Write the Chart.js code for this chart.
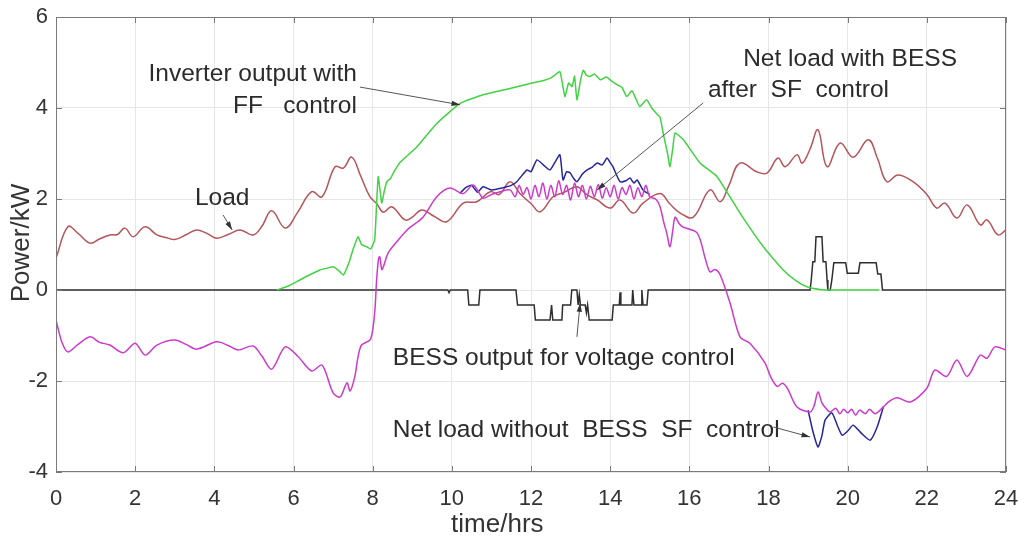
<!DOCTYPE html>
<html>
<head>
<meta charset="utf-8">
<script src="https://cdn.jsdelivr.net/npm/chart.js@4/dist/chart.umd.min.js"></script>
<style>
  html, body { margin: 0; padding: 0; background: #fff; }
  #wrap { width: 1024px; height: 542px; }
</style>
</head>
<body>
<div id="wrap"><canvas id="power"></canvas></div>
<script>
// Load
const loadTime = [0, 0.3, 0.55, 0.86, 1.1, 1.36, 1.55, 1.74, 1.95, 2.25, 2.55, 2.8, 3.0, 3.3, 3.55, 3.8, 4.06, 4.35, 4.65, 4.98, 5.2, 5.45, 5.79, 6.1, 6.46, 6.72, 7.05, 7.26, 7.47, 7.7, 7.93, 8.1, 8.27, 8.48, 8.82, 9.0, 9.24, 9.55, 9.87, 10.29, 10.63, 10.97, 11.2, 11.47, 11.72, 12.0, 12.23, 12.56, 12.85, 13.16, 13.4, 13.67, 14.0, 14.25, 14.58, 14.83, 15.26, 15.5, 15.77, 16.1, 16.52, 16.78, 17.0, 17.28, 17.7, 17.96, 18.24, 18.42, 18.72, 18.85, 19.05, 19.25, 19.48, 19.81, 20.14, 20.52, 20.75, 20.99, 21.27, 21.65, 22.0, 22.25, 22.46, 22.76, 23.02, 23.35, 23.52, 23.8, 24];
const loadPower = [0.7, 1.39, 1.25, 1.03, 1.12, 1.21, 1.22, 1.36, 1.17, 1.39, 1.21, 1.15, 1.11, 1.22, 1.32, 1.25, 1.14, 1.22, 1.32, 1.21, 1.4, 1.74, 1.36, 1.7, 2.16, 2.05, 2.71, 2.68, 2.92, 2.5, 2.05, 1.9, 1.71, 1.83, 1.54, 1.6, 1.76, 1.62, 1.5, 1.91, 1.94, 2.16, 2.1, 2.38, 2.12, 1.9, 1.72, 2.05, 2.15, 2.27, 2.1, 1.98, 1.8, 1.98, 1.69, 1.91, 2.12, 1.9, 1.69, 1.6, 2.2, 1.94, 2.3, 2.79, 2.6, 2.57, 2.9, 2.71, 2.97, 2.79, 3.1, 3.52, 2.71, 3.23, 2.92, 3.3, 2.9, 2.38, 2.53, 2.38, 2.1, 1.8, 1.91, 1.58, 1.87, 1.43, 1.54, 1.21, 1.32];

// Inverter output with FF control
const pvTime = [5.58, 5.9, 6.16, 6.4, 6.67, 6.85, 7.0, 7.15, 7.26, 7.4, 7.5, 7.63, 7.72, 7.85, 7.95, 8.05, 8.1, 8.14, 8.2, 8.23, 8.3, 8.36, 8.45, 8.52, 8.69, 9.12, 9.62, 10.21, 10.79, 11.47, 11.98, 12.3, 12.48, 12.6, 12.73, 12.8, 12.86, 12.95, 13.04, 13.1, 13.16, 13.25, 13.32, 13.4, 13.49, 13.6, 13.75, 13.9, 14.0, 14.1, 14.2, 14.3, 14.42, 14.55, 14.65, 14.75, 14.92, 15.05, 15.2, 15.26, 15.35, 15.45, 15.51, 15.58, 15.64, 15.85, 16.27, 16.7, 17.28, 17.87, 18.37, 18.7, 18.97, 19.3, 19.56, 20.8];
const pvPower = [0, 0.1, 0.22, 0.33, 0.44, 0.48, 0.51, 0.42, 0.33, 0.6, 0.88, 1.17, 1.0, 0.95, 0.9, 1.1, 1.9, 2.49, 2.1, 1.91, 2.2, 2.38, 2.45, 2.57, 2.8, 3.15, 3.66, 4.1, 4.29, 4.43, 4.54, 4.6, 4.65, 4.72, 4.8, 4.5, 4.25, 4.55, 4.47, 4.7, 4.18, 4.6, 4.83, 4.72, 4.69, 4.75, 4.62, 4.68, 4.62, 4.55, 4.5, 4.45, 4.25, 4.38, 4.2, 4.03, 4.18, 4.0, 3.85, 3.8, 3.4, 3.0, 2.71, 3.1, 3.45, 3.3, 2.79, 2.49, 1.69, 0.95, 0.44, 0.2, 0.07, 0.01, 0, 0];

// Net load with BESS after SF control
const netTime = [0, 0.15, 0.3, 0.55, 0.86, 1.1, 1.36, 1.7, 2.0, 2.25, 2.55, 3.0, 3.3, 3.55, 4.06, 4.35, 4.6, 4.98, 5.2, 5.45, 5.79, 6.1, 6.46, 6.72, 7.0, 7.18, 7.35, 7.43, 7.55, 7.63, 7.72, 7.93, 8.0, 8.06, 8.1, 8.15, 8.18, 8.23, 8.27, 8.39, 8.6, 8.87, 9.27, 9.62, 9.95, 10.29, 10.54, 10.79, 11.0, 11.22, 11.47, 11.6, 11.7, 11.8, 11.9, 12.0, 12.1, 12.2, 12.3, 12.4, 12.5, 12.6, 12.7, 12.8, 12.9, 13.0, 13.1, 13.2, 13.3, 13.4, 13.5, 13.6, 13.7, 13.8, 13.9, 14.0, 14.1, 14.2, 14.3, 14.4, 14.5, 14.6, 14.7, 14.8, 14.9, 15.0, 15.15, 15.26, 15.35, 15.43, 15.51, 15.58, 15.64, 15.75, 15.85, 16.2, 16.4, 16.52, 16.65, 16.78, 17.03, 17.28, 17.53, 17.91, 18.05, 18.22, 18.35, 18.47, 18.72, 19.05, 19.15, 19.25, 19.35, 19.45, 19.56, 19.7, 19.8, 19.9, 20.0, 20.1, 20.2, 20.3, 20.45, 20.55, 20.7, 20.9, 21.05, 21.25, 21.58, 22.0, 22.2, 22.5, 22.76, 23.02, 23.35, 23.52, 23.72, 24];
const netPower = [-0.66, -1.15, -1.36, -1.2, -1.03, -1.15, -1.21, -1.38, -1.17, -1.43, -1.21, -1.1, -1.2, -1.3, -1.14, -1.22, -1.32, -1.23, -1.45, -1.74, -1.25, -1.45, -1.78, -1.65, -2.26, -2.35, -2.04, -2.22, -1.9, -1.47, -1.21, -1.1, -0.88, -0.4, 0.22, 0.7, 0.73, 0.45, 0.51, 0.81, 1.05, 1.32, 1.6, 2.05, 2.24, 2.12, 2.31, 2.02, 2.1, 2.16, 2.2, 2.05, 2.3, 2.1, 2.25, 2.0, 2.3, 2.05, 2.35, 2.0, 2.3, 2.05, 2.4, 2.1, 2.3, 1.98, 2.35, 2.05, 2.3, 2.0, 2.28, 2.05, 2.32, 2.02, 2.25, 2.05, 2.3, 2.0, 2.25, 2.1, 2.3, 2.0, 2.25, 2.05, 2.3, 2.05, 2.0, 1.83, 1.5, 1.25, 0.95, 1.3, 1.6, 1.45, 1.38, 1.25, 0.7, 0.4, 0.45, 0.33, -0.29, -1.03, -1.17, -1.6, -1.9, -2.12, -2.05, -2.15, -2.57, -2.68, -2.55, -2.24, -2.48, -2.6, -2.68, -2.6, -2.72, -2.62, -2.7, -2.62, -2.75, -2.64, -2.72, -2.62, -2.72, -2.57, -2.45, -2.37, -2.46, -2.16, -1.76, -1.9, -1.54, -1.9, -1.43, -1.5, -1.25, -1.32];

// Net load without BESS SF control (only where it differs)
const rawTime = [10.2, 10.35, 10.5, 10.65, 10.79, 11.0, 11.3, 11.5, 11.64, 11.9, 12.0, 12.15, 12.31, 12.48, 12.6, 12.73, 12.81, 12.9, 12.99, 13.08, 13.16, 13.3, 13.42, 13.55, 13.67, 13.8, 13.92, 14.0, 14.07, 14.15, 14.25, 14.4, 14.5, 14.6, 14.68, 14.83, 15.0, 17.0, 19.0, 19.12, 19.25, 19.35, 19.43, 19.6, 19.75, 19.86, 20.0, 20.14, 20.35, 20.57, 20.75, 20.9];
const rawPower = [2.12, 2.25, 2.3, 2.15, 2.27, 2.2, 2.25, 2.3, 2.38, 2.64, 2.6, 2.86, 2.75, 2.64, 2.8, 2.97, 2.42, 2.6, 2.57, 2.45, 2.38, 2.55, 2.64, 2.7, 2.79, 2.75, 2.9, 2.8, 2.71, 2.55, 2.38, 2.4, 2.46, 2.35, 2.42, 2.2, 2.1, null, -2.64, -3.1, -3.45, -3.2, -2.86, -2.7, -3.0, -3.19, -3.1, -2.97, -3.15, -3.3, -3.0, -2.57];

// BESS output for voltage control
const bessTime = [0, 9.9, 9.93, 9.96, 10.4, 10.43, 10.68, 10.71, 11.62, 11.66, 12.08, 12.11, 12.48, 12.52, 12.55, 12.78, 12.8, 13.0, 13.03, 13.16, 13.19, 13.22, 13.25, 13.37, 13.4, 13.43, 13.47, 14.05, 14.08, 14.23, 14.25, 14.27, 14.55, 14.57, 14.6, 14.78, 14.8, 14.83, 14.93, 14.96, 19.0, 19.05, 19.08, 19.12, 19.17, 19.2, 19.35, 19.38, 19.45, 19.48, 19.5, 19.56, 19.6, 19.65, 19.95, 19.99, 20.27, 20.31, 20.72, 20.76, 20.84, 20.88, 24];
const bessPower = [0, 0, -0.06, 0, 0, -0.33, -0.33, 0, 0, -0.33, -0.33, -0.66, -0.66, -0.33, -0.66, -0.66, -0.33, -0.33, 0, 0, -0.33, -0.1, -0.33, -0.33, -0.5, -0.33, -0.66, -0.66, -0.33, -0.33, -0.05, -0.33, -0.33, 0, -0.33, -0.33, 0, -0.33, -0.33, 0, 0, 0, 0.22, 0.62, 0.62, 1.17, 1.17, 0.62, 0.62, 0.22, 0, 0, 0.22, 0.6, 0.6, 0.37, 0.37, 0.6, 0.6, 0.35, 0.35, 0, 0];

const timeTicks = [0, 2, 4, 6, 8, 10, 12, 14, 16, 18, 20, 22, 24];
const powerTicks = [-4, -2, 0, 2, 4, 6];

// text labels with arrows, in data coordinates
const notes = [
  { text: 'Inverter output with', t: 7.6, p: 4.59, align: 'right' },
  { text: 'FF   control', t: 7.6, p: 3.89, align: 'right' },
  { text: 'Load', t: 3.51, p: 1.87, align: 'left' },
  { text: 'Net load with BESS', t: 17.36, p: 4.92, align: 'left' },
  { text: 'after  SF  control', t: 16.47, p: 4.24, align: 'left' },
  { text: 'BESS output for voltage control', t: 8.51, p: -1.65, align: 'left' },
  { text: 'Net load without  BESS  SF  control', t: 8.51, p: -3.23, align: 'left' }
];
const arrows = [
  [7.68, 4.46, 10.21, 4.07],
  [4.22, 1.65, 4.45, 1.32],
  [16.35, 4.11, 13.67, 2.2],
  [13.16, -1.03, 13.24, -0.29],
  [18.12, -3.01, 19.05, -3.23]
];

const FONT = '"Liberation Sans", Arial, Helvetica, sans-serif';
const pts = (xs, ys) => xs.map((x, i) => ({ x: x, y: ys[i] }));

const line = (label, xs, ys, color, order, tension) => ({
  label: label,
  data: pts(xs, ys),
  borderColor: color,
  borderWidth: 1.5,
  pointRadius: 0,
  tension: tension,
  order: order,
  fill: false
});

const frame = {
  id: 'frame',
  afterDatasetsDraw(chart) {
    const { ctx, chartArea: a, scales: { x, y } } = chart;
    ctx.save();
    ctx.strokeStyle = '#7a7a7a';
    ctx.lineWidth = 1;
    ctx.strokeRect(a.left + 0.5, a.top + 0.5, a.right - a.left - 1, a.bottom - a.top - 1);
    ctx.beginPath();
    timeTicks.forEach(t => {
      const px = Math.round(x.getPixelForValue(t)) + 0.5;
      ctx.moveTo(px, a.bottom); ctx.lineTo(px, a.bottom - 6);
      ctx.moveTo(px, a.top); ctx.lineTo(px, a.top + 6);
    });
    powerTicks.forEach(p => {
      const py = Math.round(y.getPixelForValue(p)) + 0.5;
      ctx.moveTo(a.left, py); ctx.lineTo(a.left + 6, py);
      ctx.moveTo(a.right, py); ctx.lineTo(a.right - 6, py);
    });
    ctx.stroke();

    // annotations
    ctx.fillStyle = '#2b2b2b';
    ctx.font = '24.5px ' + FONT;
    ctx.textBaseline = 'alphabetic';
    notes.forEach(n => {
      ctx.textAlign = n.align;
      ctx.fillText(n.text, x.getPixelForValue(n.t), y.getPixelForValue(n.p));
    });
    ctx.strokeStyle = '#555';
    ctx.fillStyle = '#333';
    arrows.forEach(([t0, p0, t1, p1]) => {
      const x0 = x.getPixelForValue(t0), y0 = y.getPixelForValue(p0);
      const x1 = x.getPixelForValue(t1), y1 = y.getPixelForValue(p1);
      const ang = Math.atan2(y1 - y0, x1 - x0);
      ctx.beginPath();
      ctx.moveTo(x0, y0); ctx.lineTo(x1, y1);
      ctx.stroke();
      ctx.beginPath();
      ctx.moveTo(x1, y1);
      ctx.lineTo(x1 - 9 * Math.cos(ang - 0.3), y1 - 9 * Math.sin(ang - 0.3));
      ctx.lineTo(x1 - 9 * Math.cos(ang + 0.3), y1 - 9 * Math.sin(ang + 0.3));
      ctx.closePath();
      ctx.fill();
    });

    // axis titles
    ctx.fillStyle = '#333';
    ctx.font = '26px ' + FONT;
    ctx.textAlign = 'center';
    ctx.textBaseline = 'middle';
    ctx.fillText('time/hrs', x.getPixelForValue(11.15), 525);
    ctx.translate(22, 243);
    ctx.rotate(-Math.PI / 2);
    ctx.fillText('Power/kW', 0, 0);
    ctx.restore();
  }
};

new Chart(document.getElementById('power'), {
  type: 'line',
  data: {
    datasets: [
      line('Load', loadTime, loadPower, '#b5545a', 4, 0.4),
      line('Inverter output with FF control', pvTime, pvPower, '#42d242', 3, 0.15),
      line('Net load with BESS after SF control', netTime, netPower, '#cc3acc', 1, 0.3),
      line('Net load without BESS SF control', rawTime, rawPower, '#25259c', 2, 0.2),
      line('BESS output for voltage control', bessTime, bessPower, '#2e2e2e', 5, 0)
    ]
  },
  options: {
    responsive: true,
    maintainAspectRatio: false,
    animation: false,
    events: [],
    layout: { padding: { top: 17, right: 18, left: 0, bottom: 0 } },
    plugins: {
      legend: { display: false },
      tooltip: { enabled: false }
    },
    scales: {
      x: {
        type: 'linear',
        min: 0,
        max: 24,
        afterFit: s => { s.height = 70; s.paddingLeft = 0; s.paddingRight = 0; },
        afterBuildTicks: s => { s.ticks = timeTicks.map(v => ({ value: v })); },
        grid: { color: '#e6e6e6', drawTicks: false },
        border: { display: false },
        ticks: { color: '#333', padding: 14, font: { family: FONT, size: 22 }, maxRotation: 0 }
      },
      y: {
        type: 'linear',
        min: -4,
        max: 6,
        afterFit: s => { s.width = 56; s.paddingTop = 0; s.paddingBottom = 0; },
        afterBuildTicks: s => { s.ticks = powerTicks.map(v => ({ value: v })); },
        grid: { color: '#e6e6e6', drawTicks: false },
        border: { display: false },
        ticks: { color: '#333', padding: 8, font: { family: FONT, size: 22 } }
      }
    }
  },
  plugins: [frame]
});
</script>
</body>
</html>
